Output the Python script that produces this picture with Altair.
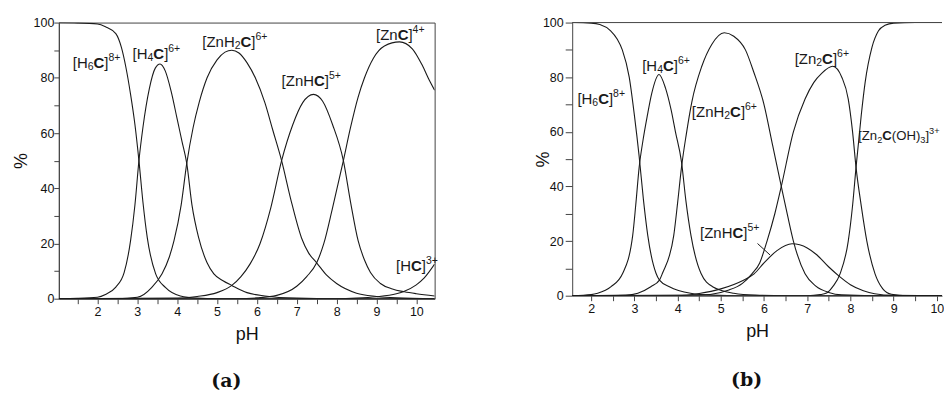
import altair as alt
import pandas as pd

# ---------------- panel (a): species distribution ----------------
A_H6C_PH = [1.03, 1.5, 2.0, 2.2, 2.46, 2.6, 2.71, 2.83, 2.94, 3.04, 3.14, 3.25, 3.46, 3.71, 4.08, 4.5, 5.0, 10.46]
A_H6C_PCT = [100, 99.9, 99.5, 98.5, 96, 91, 84, 74, 63, 50, 35, 22, 9, 4, 1, 0.2, 0, 0]

A_H4C_PH = [1.03, 1.5, 2.0, 2.2, 2.46, 2.67, 2.83, 2.94, 3.04, 3.14, 3.3, 3.45, 3.57, 3.7, 3.85, 4.0, 4.12, 4.24, 4.37, 4.54, 4.75, 4.92, 5.15, 5.37, 5.75, 6.2, 7.0, 8.0, 10.46]
A_H4C_PCT = [0, 0.1, 0.5, 1.5, 4.2, 9.5, 21, 34, 50, 62, 76, 83.5, 85, 82.5, 75, 65, 57, 49, 34, 22, 13, 9, 6.5, 4.8, 2.2, 1, 0.2, 0, 0]

A_ZNH2C_PH = [1.03, 2.5, 3.0, 3.37, 3.62, 3.8, 3.92, 4.1, 4.24, 4.4, 4.55, 4.75, 5.0, 5.2, 5.37, 5.55, 5.75, 5.96, 6.2, 6.4, 6.62, 6.85, 7.12, 7.3, 7.5, 7.75, 8.0, 8.5, 9.0, 9.5, 10.46]
A_ZNH2C_PCT = [0, 0, 0.5, 4.2, 9, 15, 21, 34, 49, 62, 71, 80, 86.5, 89.3, 90, 89, 85.5, 80, 71, 61, 50, 36, 22, 16.5, 13, 8.5, 5.5, 2, 0.8, 0.3, 0]

A_ZNHC_PH = [1.03, 4.0, 4.5, 5.0, 5.37, 5.6, 5.83, 6.08, 6.35, 6.62, 6.9, 7.15, 7.42, 7.65, 7.9, 8.17, 8.35, 8.54, 8.7, 8.85, 9.1, 9.4, 9.7, 10.0, 10.46]
A_ZNHC_PCT = [0, 0.2, 0.8, 2.2, 4.8, 8, 12.6, 20, 33, 50, 63, 71, 74, 71.5, 63, 50, 35, 21, 14, 9.5, 5.5, 3.5, 2.5, 1.8, 1.0]

A_ZNC_PH = [1.03, 5.5, 6.0, 6.5, 7.0, 7.25, 7.5, 7.68, 7.9, 8.17, 8.35, 8.54, 8.7, 8.92, 9.2, 9.58, 9.9, 10.15, 10.33, 10.46]
A_ZNC_PCT = [0, 0, 0.3, 1.2, 4.5, 8, 13, 20, 33, 50, 62, 73, 80, 87, 91.5, 93, 90.5, 84.5, 79, 75.5]

A_HC_PH = [1.03, 8.0, 8.5, 9.0, 9.5, 9.7, 10.0, 10.2, 10.46]
A_HC_PCT = [0, 0, 0.2, 0.7, 1.8, 2.7, 5, 7.5, 12.5]

# ---------------- panel (b): species distribution ----------------
B_H6C_PH = [1.56, 2.0, 2.2, 2.45, 2.6, 2.72, 2.88, 3.0, 3.11, 3.21, 3.31, 3.5, 3.58, 3.81, 4.3, 4.8, 5.5, 10.2]
B_H6C_PCT = [100, 99.8, 99.3, 97, 94, 90, 80, 66, 51, 35, 22, 8.2, 5.7, 3.3, 0.9, 0.2, 0, 0]

B_H4C_PH = [1.56, 2.0, 2.15, 2.46, 2.73, 2.96, 3.03, 3.11, 3.2, 3.3, 3.4, 3.57, 3.72, 3.85, 3.95, 4.09, 4.19, 4.31, 4.54, 4.81, 5.3, 5.8, 6.5, 10.2]
B_H4C_PCT = [0, 0.4, 0.9, 3.3, 8.2, 22, 33, 47, 57, 66, 74, 81, 76, 68, 60, 49, 35, 22, 8.2, 3.3, 0.9, 0.2, 0, 0]

B_ZNH2C_PH = [1.56, 2.8, 3.08, 3.38, 3.58, 3.65, 3.91, 4.0, 4.09, 4.2, 4.33, 4.56, 4.79, 5.08, 5.3, 5.57, 5.76, 6.0, 6.2, 6.4, 6.55, 6.68, 6.95, 7.2, 7.5, 7.8, 8.5, 10.2]
B_ZNH2C_PCT = [0, 0.2, 0.9, 3.3, 5.7, 8.2, 22, 34, 47, 59, 71, 84, 92, 96.3, 95, 90, 82, 70, 55, 40, 29, 20, 8, 3.5, 1.2, 0.3, 0, 0]

B_ZNHC_PH = [1.56, 4.0, 4.5, 5.0, 5.5, 5.77, 6.0, 6.3, 6.65, 7.0, 7.22, 7.5, 7.75, 8.0, 8.3, 8.56, 9.0, 10.2]
B_ZNHC_PCT = [0, 0, 0.8, 2.5, 5.5, 8, 12, 16.5, 19, 17.5, 15, 10.5, 7, 4, 1.8, 0.7, 0.1, 0]

B_ZN2C_PH = [1.56, 4.5, 5.0, 5.17, 5.5, 5.72, 5.9, 6.07, 6.25, 6.4, 6.68, 6.95, 7.15, 7.34, 7.59, 7.8, 7.95, 8.05, 8.13, 8.25, 8.38, 8.57, 8.75, 8.95, 9.3, 10.2]
B_ZN2C_PCT = [0, 0.2, 1.2, 2, 4.5, 8, 12, 20, 30, 40, 60, 72, 78, 81.5, 84, 80, 72, 60, 47, 33, 20, 8, 2.5, 0.5, 0, 0]

B_ZN2COH_PH = [1.56, 7.0, 7.3, 7.45, 7.6, 7.76, 7.95, 8.05, 8.13, 8.25, 8.34, 8.5, 8.65, 8.8, 9.0, 9.5, 10.2]
B_ZN2COH_PCT = [0, 0, 0.4, 1, 3.5, 8, 20, 33, 47, 66, 78, 91, 97, 99, 99.8, 100, 100]

# ---------------- labels: (segments, pH, %, relative size) ----------------
LBL_H6C = [("[H", "n"), ("6", "sub"), ("C", "b"), ("]", "n"), ("8+", "sup")]
LBL_H4C = [("[H", "n"), ("4", "sub"), ("C", "b"), ("]", "n"), ("6+", "sup")]
LBL_ZNH2C = [("[ZnH", "n"), ("2", "sub"), ("C", "b"), ("]", "n"), ("6+", "sup")]
LBL_ZNHC = [("[ZnH", "n"), ("C", "b"), ("]", "n"), ("5+", "sup")]
LBL_ZNC = [("[Zn", "n"), ("C", "b"), ("]", "n"), ("4+", "sup")]
LBL_HC = [("[H", "n"), ("C", "b"), ("]", "n"), ("3+", "sup")]
LBL_ZN2C = [("[Zn", "n"), ("2", "sub"), ("C", "b"), ("]", "n"), ("6+", "sup")]
LBL_ZN2COH = [("[Zn", "n"), ("2", "sub"), ("C", "b"), ("(OH)", "n"), ("3", "sub"), ("]", "n"), ("3+", "sup")]

A_LABELS = [(LBL_H6C, 1.38, 85.2, 1.0), (LBL_H4C, 2.88, 88.5, 1.0), (LBL_ZNH2C, 4.63, 93.1, 1.0),
            (LBL_ZNHC, 6.62, 78.7, 1.0), (LBL_ZNC, 8.99, 95.6, 1.0), (LBL_HC, 9.49, 12.0, 1.0)]
B_LABELS = [(LBL_H6C, 1.68, 72.0, 1.0), (LBL_H4C, 3.18, 84.2, 1.0), (LBL_ZNH2C, 4.33, 67.2, 1.0),
            (LBL_ZN2C, 6.71, 86.6, 1.0), (LBL_ZN2COH, 8.18, 58.6, 0.88), (LBL_ZNHC, 4.52, 22.8, 1.0)]
B_LEADER = {"pH": [5.85], "pct": [19.1], "pH2": [6.14], "pct2": [14.9]}

X_TICKS_A = [1.5, 2, 2.5, 3, 3.5, 4, 4.5, 5, 5.5, 6, 6.5, 7, 7.5, 8, 8.5, 9, 9.5, 10]
X_TICKS_B = [2, 2.5, 3, 3.5, 4, 4.5, 5, 5.5, 6, 6.5, 7, 7.5, 8, 8.5, 9, 9.5, 10]
Y_TICKS = [0, 10, 20, 30, 40, 50, 60, 70, 80, 90, 100]

FONT = "Liberation Sans, Arial, sans-serif"
MAIN = 15
SMALL = 10.5
INK = "#1a1a1a"
FRAME = "#444"
EM = {"[": 0.278, "]": 0.278, "H": 0.722, "Z": 0.611, "n": 0.556, "C": 0.722,
      "O": 0.778, "(": 0.333, ")": 0.333, "+": 0.584}


def curves(pairs):
    rows = []
    for name, xs, ys in pairs:
        for x, y in zip(xs, ys):
            rows.append({"species": name, "pH": x, "pct": y})
    return pd.DataFrame(rows)


def label_rows(labels, units_per_px):
    # each label is laid out as consecutive text pieces; the pixel advance of the
    # previous pieces is turned into the x scale's units
    rows = []
    for segs, ph, pct, rel in labels:
        off = 0.0
        for text, style in segs:
            size = (SMALL if style in ("sub", "sup") else MAIN) * rel
            rows.append({"pH": ph + off * units_per_px, "pct": pct, "t": text, "style": style, "fs": size})
            off += sum(EM.get(ch, 0.556) for ch in text) * size
    return pd.DataFrame(rows)


def panel(df, labels, domain, xticks, w, h, title_x, tick_y, lab_pad_y, tag, tag_x, tag_y,
          leader=None, full_frame=True):
    xs = alt.Scale(domain=domain, nice=False, zero=False)
    ys = alt.Scale(domain=[0, 100], nice=False)
    xax = alt.Axis(values=xticks, title="pH", grid=False, tickSize=5, labelPadding=2,
                   labelExpr="datum.value % 1 == 0 ? format(datum.value, 'd') : ''",
                   titlePadding=7, labelFlush=False)
    yax = alt.Axis(values=Y_TICKS, title="%", grid=False, tickSize=tick_y, labelPadding=lab_pad_y,
                   labelExpr="datum.value % 20 == 0 ? format(datum.value, 'd') : ''",
                   titleX=title_x, titleBaseline="middle", titleAngle=270, labelFlush=False)
    X = alt.X("pH:Q", scale=xs, axis=xax)
    Y = alt.Y("pct:Q", scale=ys, axis=yax)

    lines = alt.Chart(df).mark_line(interpolate="monotone", color=INK, strokeWidth=1.1, clip=True).encode(
        x=X, y=Y, detail="species:N")

    lab = label_rows(labels, (domain[1] - domain[0]) / w)
    layers = [lines]
    for style, weight, dy in [("n", "normal", 0), ("b", "bold", 0), ("sub", "normal", 4), ("sup", "normal", -5)]:
        sub = lab[lab["style"] == style]
        if len(sub) == 0:
            continue
        layers.append(alt.Chart(sub).mark_text(align="left", baseline="middle", font=FONT,
                                               fontWeight=weight, dy=dy, color=INK).encode(
            x=X, y=Y, text="t:N", size=alt.Size("fs:Q", scale=None, legend=None)))
    if leader is not None:
        layers.append(alt.Chart(pd.DataFrame(leader)).mark_rule(color=INK, strokeWidth=1).encode(
            x=X, y=Y, x2="pH2:Q", y2="pct2:Q"))
    if not full_frame:
        layers.append(alt.Chart(pd.DataFrame({"k": [0]})).mark_rule(color=FRAME, strokeWidth=1).encode(
            x=alt.value(0), x2=alt.value(w), y=alt.value(0)))
    layers.append(alt.Chart(pd.DataFrame({"t": [tag]})).mark_text(
        font="DejaVu Serif", fontWeight="bold", fontSize=19, color="#111", baseline="middle", align="center").encode(
        x=alt.value(tag_x), y=alt.value(tag_y), text="t:N"))
    ch = alt.layer(*layers).properties(width=w, height=h)
    if full_frame:
        ch = ch.properties(view=alt.ViewBackground(stroke=FRAME, strokeWidth=1))
    else:
        ch = ch.properties(view=alt.ViewBackground(stroke=None))
    return ch


dfa = curves([("H6C", A_H6C_PH, A_H6C_PCT), ("H4C", A_H4C_PH, A_H4C_PCT),
              ("ZnH2C", A_ZNH2C_PH, A_ZNH2C_PCT), ("ZnHC", A_ZNHC_PH, A_ZNHC_PCT),
              ("ZnC", A_ZNC_PH, A_ZNC_PCT), ("HC", A_HC_PH, A_HC_PCT)])
dfb = curves([("H6C", B_H6C_PH, B_H6C_PCT), ("H4C", B_H4C_PH, B_H4C_PCT),
              ("ZnH2C", B_ZNH2C_PH, B_ZNH2C_PCT), ("ZnHC", B_ZNHC_PH, B_ZNHC_PCT),
              ("Zn2C", B_ZN2C_PH, B_ZN2C_PCT), ("Zn2C(OH)3", B_ZN2COH_PH, B_ZN2COH_PCT)])

pa = panel(dfa, A_LABELS, [1.03, 10.46], X_TICKS_A, 377, 277, -37, 5, 0, "(a)", 168, 360)
pb = panel(dfb, B_LABELS, [1.56, 10.12], X_TICKS_B, 371, 274, -29, 7, 2, "(b)", 175, 359,
           leader=B_LEADER, full_frame=False)

chart = alt.hconcat(pa, pb, spacing=96).properties(
    padding={"left": 4, "top": 7, "right": 0, "bottom": 0}, background="white"
).configure_axis(
    domainColor=FRAME, tickColor=FRAME, labelFont=FONT, labelFontSize=12.5, labelColor="#111",
    titleFont=FONT, titleFontSize=18, titleFontWeight="normal", titleColor="#111"
)

chart.save("out.html", embed_options={"renderer": "svg", "actions": False})
